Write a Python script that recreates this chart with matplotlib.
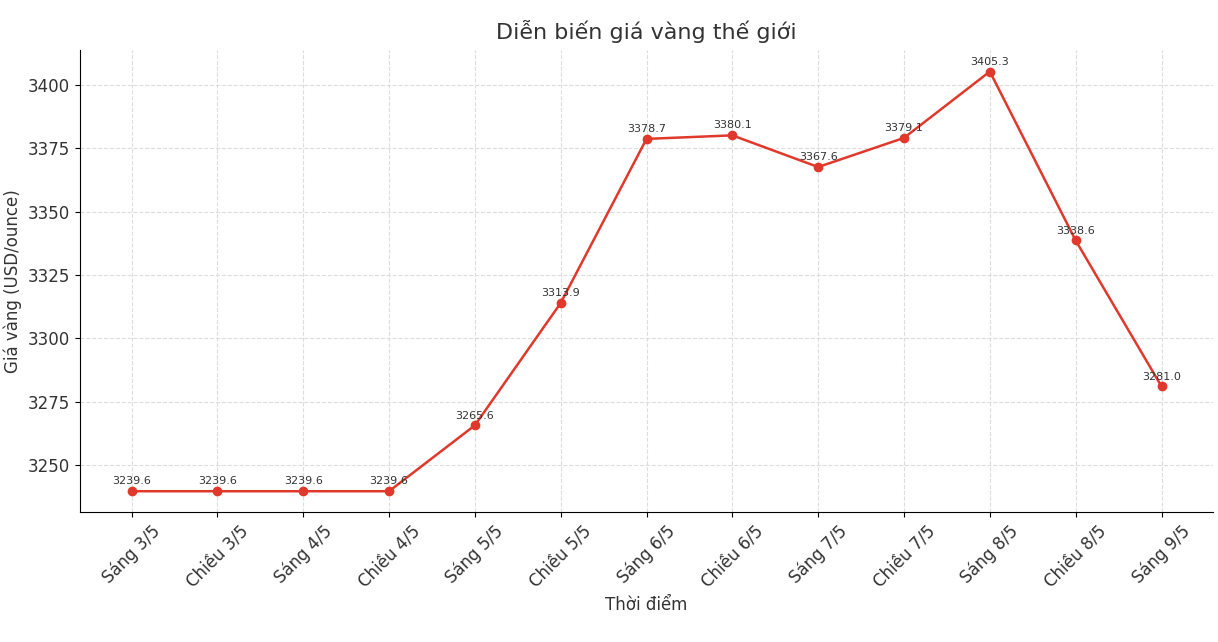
import matplotlib
matplotlib.use("Agg")
import matplotlib.pyplot as plt

labels = ["Sáng 3/5", "Chiều 3/5", "Sáng 4/5", "Chiều 4/5", "Sáng 5/5", "Chiều 5/5",
          "Sáng 6/5", "Chiều 6/5", "Sáng 7/5", "Chiều 7/5", "Sáng 8/5", "Chiều 8/5", "Sáng 9/5"]
prices = [3239.6, 3239.6, 3239.6, 3239.6, 3265.6, 3313.9, 3378.7, 3380.1, 3367.6, 3379.1, 3405.3, 3338.6, 3281.0]

fig = plt.figure(figsize=(12.18, 6.42), dpi=100)
ax = fig.add_axes([80/1218, 1-512/642, (1213-80)/1218, (512-50)/642])
x = list(range(len(labels)))
ax.plot(x, prices, color="#e0392b", marker="o", markersize=6, linewidth=1.8)
for xi, p in zip(x, prices):
    ax.annotate(f"{p:.1f}", (xi, p), xytext=(0, 3.5), textcoords="offset points",
                ha="center", va="bottom", fontsize=8, color="#333333")
ax.set_xlim(-0.6, 12.6)
ax.set_ylim(3231.4, 3413.8)
ax.set_yticks([3250, 3275, 3300, 3325, 3350, 3375, 3400])
ax.set_xticks(x)
ax.set_xticklabels(labels, rotation=45, fontsize=12, color="#333333")
ax.tick_params(axis="y", labelsize=12, labelcolor="#333333")
ax.grid(True, linestyle="--", color="#dddddd", linewidth=0.8)
ax.set_axisbelow(True)
for s in ["top", "right"]:
    ax.spines[s].set_visible(False)
ax.set_title("Diễn biến giá vàng thế giới", fontsize=16, color="#333333", pad=8)
ax.set_xlabel("Thời điểm", fontsize=12, color="#333333")
ax.set_ylabel("Giá vàng (USD/ounce)", fontsize=12, color="#333333")
fig.savefig("out.png", dpi=100)
